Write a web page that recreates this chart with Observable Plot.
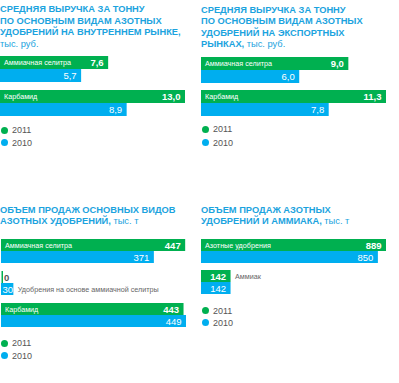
<!DOCTYPE html>
<html>
<head>
<meta charset="utf-8">
<script src="https://cdn.jsdelivr.net/npm/d3@7"></script>
<script src="https://cdn.jsdelivr.net/npm/@observablehq/plot@0.6"></script>
<style>
  html, body { margin: 0; padding: 0; background: #fff; }
  #root { position: relative; width: 399px; height: 383px; overflow: hidden; font-family: "Liberation Sans", Arial, sans-serif; }
  .title { position: absolute; color: #1ba3de; font-size: 9.3px; font-weight: bold; line-height: 11.5px; white-space: nowrap; }
  .title .unit { font-weight: normal; }
  .plot { position: absolute; }
  .legend { position: absolute; font-size: 9px; color: #555; }
  .legend .item { position: absolute; left: 0; white-space: nowrap; height: 12px; line-height: 12px; }
  .legend .sw { position: absolute; left: 0; top: 2.5px; width: 7px; height: 7px; border-radius: 50%; }
  .legend .lb { position: absolute; left: 11px; top: 0; }
</style>
</head>
<body>
<div id="root"></div>
<script>
// ---- data ----
const years = ["2011", "2010"];
const yearColors = ["#00b050", "#00aeef"];

const p1Title = ["СРЕДНЯЯ ВЫРУЧКА ЗА ТОННУ", "ПО ОСНОВНЫМ ВИДАМ АЗОТНЫХ", "УДОБРЕНИЙ НА ВНУТРЕННЕМ РЫНКЕ,"];
const p1Unit = "тыс. руб.";
const p1Categories = ["Аммиачная селитра", "Карбамид"];
const p1Values2011 = [7.6, 13.0];
const p1Values2010 = [5.7, 8.9];

const p2Title = ["СРЕДНЯЯ ВЫРУЧКА ЗА ТОННУ", "ПО ОСНОВНЫМ ВИДАМ АЗОТНЫХ", "УДОБРЕНИЙ НА ЭКСПОРТНЫХ", "РЫНКАХ,"];
const p2Unit = "тыс. руб.";
const p2Categories = ["Аммиачная селитра", "Карбамид"];
const p2Values2011 = [9.0, 11.3];
const p2Values2010 = [6.0, 7.8];

const p3Title = ["ОБЪЕМ ПРОДАЖ ОСНОВНЫХ ВИДОВ", "АЗОТНЫХ УДОБРЕНИЙ,"];
const p3Unit = "тыс. т";
const p3Categories = ["Аммиачная селитра", "Удобрения на основе аммиачной селитры", "Карбамид"];
const p3Values2011 = [447, 0, 443];
const p3Values2010 = [371, 30, 449];

const p4Title = ["ОБЪЕМ ПРОДАЖ АЗОТНЫХ", "УДОБРЕНИЙ И АММИАКА,"];
const p4Unit = "тыс. т";
const p4Categories = ["Азотные удобрения", "Аммиак"];
const p4Values2011 = [889, 142];
const p4Values2010 = [850, 142];

// ---- rendering ----
const root = document.getElementById("root");

function addTitle(lines, unit, left, top) {
  const d = document.createElement("div");
  d.className = "title";
  d.style.left = left + "px";
  d.style.top = top + "px";
  d.innerHTML = lines.map((l, i) => i === lines.length - 1 ? l + " <span class='unit'>" + unit + "</span>" : l).join("<br>");
  root.appendChild(d);
}
function addTitleUnitLine(lines, unit, left, top) {
  const d = document.createElement("div");
  d.className = "title";
  d.style.left = left + "px";
  d.style.top = top + "px";
  d.innerHTML = lines.join("<br>") + "<br><span class='unit'>" + unit + "</span>";
  root.appendChild(d);
}

function addLegend(left, top, gap) {
  const d = document.createElement("div");
  d.className = "legend";
  d.style.left = left + "px";
  d.style.top = top + "px";
  years.forEach((y, i) => {
    const it = document.createElement("div");
    it.className = "item";
    it.style.top = (i * gap) + "px";
    it.innerHTML = `<span class="sw" style="background:${yearColors[i]}"></span><span class="lb">${y}</span>`;
    d.appendChild(it);
  });
  root.appendChild(d);
}

function addPlot({categories, v2011, v2010, decimals, left, top, width, height, marginLeft, fyPad}) {
  const rows = categories.flatMap((c, i) => [
    {cat: c, year: "2011", value: v2011[i], max: Math.max(v2011[i], v2010[i]), other: v2010[i]},
    {cat: c, year: "2010", value: v2010[i], max: Math.max(v2011[i], v2010[i]), other: v2011[i]}
  ]);
  const xmax = d3.max(rows, d => d.value);
  const fmt = v => decimals ? d3.format(".1f")(v).replace(".", ",") : d3.format("d")(v);
  const wide = d => d.max >= 0.3 * xmax;
  const plotW = 185;
  const chart = Plot.plot({
    width, height,
    marginTop: 0, marginBottom: 0, marginLeft, marginRight: width - marginLeft - plotW,
    style: {fontFamily: '"Liberation Sans", Arial, sans-serif', background: "transparent", overflow: "visible"},
    x: {domain: [0, xmax], axis: null},
    y: {domain: years, axis: null, paddingInner: 0, paddingOuter: 0},
    fy: {domain: categories, axis: null, paddingInner: fyPad, paddingOuter: 0},
    color: {domain: years, range: yearColors},
    marks: [
      Plot.barX(rows.filter(d => d.value > 0), {fy: "cat", y: "year", x: "value", fill: "year"}),
      Plot.tickX(rows.filter(d => d.value === 0), {fy: "cat", y: "year", x: "value", stroke: "year", strokeWidth: 1.5, dx: 0.75}),
      // values of 2011 (bold) inside
      Plot.text(rows.filter(d => d.year === "2011" && d.value >= 0.1 * xmax), {
        fy: "cat", y: "year", x: "value", text: d => fmt(d.value),
        textAnchor: "end", dx: -5, fill: "white", fontSize: 9.5, fontWeight: "bold"
      }),
      // values of 2010 (normal) inside
      Plot.text(rows.filter(d => d.year === "2010" && d.value >= 0.1 * xmax), {
        fy: "cat", y: "year", x: "value", text: d => fmt(d.value),
        textAnchor: "end", dx: -5, fill: "white", fontSize: 9.5
      }),
      // small non-zero values centred in their short bar
      Plot.text(rows.filter(d => d.value > 0 && d.value < 0.1 * xmax), {
        fy: "cat", y: "year", x: d => d.value / 2, text: d => fmt(d.value),
        textAnchor: "middle", fill: "white", fontSize: 9.5
      }),
      // zero values outside
      Plot.text(rows.filter(d => d.value === 0), {
        fy: "cat", y: "year", x: "value", text: d => fmt(d.value),
        textAnchor: "start", dx: 2.5, fill: "#555", fontSize: 9.5, fontWeight: "bold"
      }),
      // category labels inside wide bars
      Plot.text(rows.filter(d => d.year === "2011" && wide(d)), {
        fy: "cat", y: "year", x: () => 0, text: "cat",
        textAnchor: "start", dx: 3.5, fill: "white", fontSize: 7.2
      }),
      // category labels outside short bars, on the row of the longer bar
      Plot.text(rows.filter(d => !wide(d) && (d.value > d.other || (d.value === d.other && d.year === "2011"))), {
        fy: "cat", y: "year", x: "max", text: "cat",
        textAnchor: "start", dx: 4, fill: "#666", fontSize: 7.2
      })
    ]
  });
  chart.classList.add("plot");
  chart.style.left = left + "px";
  chart.style.top = top + "px";
  root.appendChild(chart);
}

// Panel 1
addTitleUnitLine(p1Title, p1Unit, 0, 4);
addPlot({categories: p1Categories, v2011: p1Values2011, v2010: p1Values2010, decimals: true,
  left: 0, top: 55, width: 199, height: 61, marginLeft: 0, fyPad: 0.206});
addLegend(1, 124, 12.5);

// Panel 2
addTitle(p2Title, p2Unit, 201, 4.5);
addPlot({categories: p2Categories, v2011: p2Values2011, v2010: p2Values2010, decimals: true,
  left: 199, top: 56, width: 200, height: 60, marginLeft: 2, fyPad: 0.182});
addLegend(202, 123, 13.5);

// Panel 3
addTitle(p3Title, p3Unit, 0, 204.5);
addPlot({categories: p3Categories, v2011: p3Values2011, v2010: p3Values2010, decimals: false,
  left: 0, top: 237, width: 199, height: 92, marginLeft: 1, fyPad: 0.212});
addLegend(1, 337, 12.5);

// Panel 4
addTitle(p4Title, p4Unit, 201, 204.5);
addPlot({categories: p4Categories, v2011: p4Values2011, v2010: p4Values2010, decimals: false,
  left: 199, top: 238, width: 200, height: 57, marginLeft: 2, fyPad: 0.19});
addLegend(202, 304.5, 12);
</script>
</body>
</html>
